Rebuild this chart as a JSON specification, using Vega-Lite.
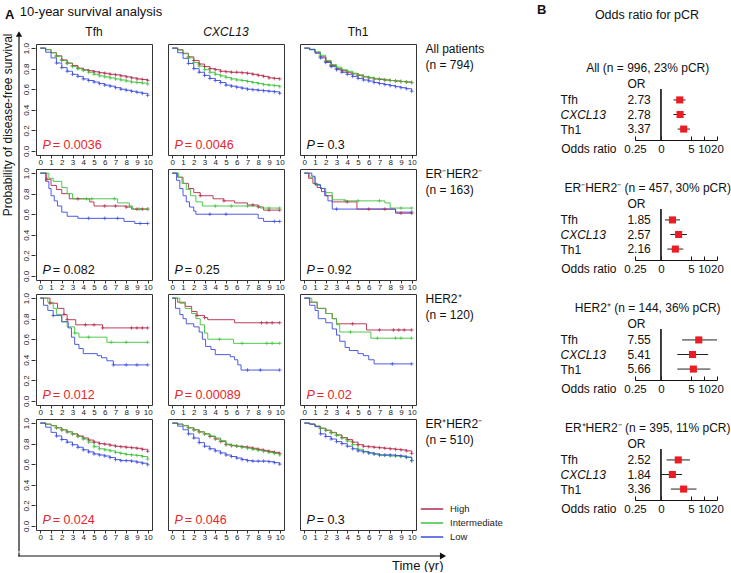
{
 "$schema": "https://vega.github.io/schema/vega-lite/v6.json",
 "background": "white",
 "padding": {"left": 1, "top": 4, "right": 0, "bottom": 0},
 "config": {
  "font": "Liberation Sans",
  "view": {"stroke": "#333", "strokeWidth": 1},
  "axis": {"grid": false, "labelOverlap": false},
  "title": {"fontWeight": "normal", "color": "#111"}
 },
 "datasets": {
  "km": [
   {"row": "All patients|(n = 794)", "sig": "Tfh", "grp": "High", "t": [0,0.5,1,1.5,2,2.5,3,3.5,4,4.5,5,5.5,6,6.5,7,7.5,8,8.5,9,9.5,10], "s": [1,0.985,0.955,0.925,0.885,0.855,0.83,0.805,0.79,0.78,0.77,0.76,0.755,0.745,0.74,0.73,0.72,0.71,0.7,0.695,0.685], "c": [0,0,0,1,1,1,1,1,1,1,1,1,1,1,1,1,1,1,1,1,1]},
   {"row": "All patients|(n = 794)", "sig": "Tfh", "grp": "Intermediate", "t": [0,0.5,1,1.5,2,2.5,3,3.5,4,4.5,5,5.5,6,6.5,7,7.5,8,8.5,9,9.5,10], "s": [1,0.985,0.955,0.92,0.88,0.85,0.82,0.8,0.785,0.765,0.745,0.73,0.72,0.71,0.7,0.69,0.68,0.67,0.665,0.66,0.65], "c": [0,0,0,1,1,1,1,1,1,1,1,1,1,1,1,1,1,1,1,1,1]},
   {"row": "All patients|(n = 794)", "sig": "Tfh", "grp": "Low", "t": [0,0.5,1,1.5,2,2.5,3,3.5,4,4.5,5,5.5,6,6.5,7,7.5,8,8.5,9,9.5,10], "s": [1,0.96,0.905,0.855,0.81,0.775,0.745,0.725,0.7,0.685,0.67,0.655,0.64,0.63,0.615,0.6,0.59,0.58,0.57,0.56,0.54], "c": [0,0,0,1,1,1,1,1,1,1,1,1,1,1,1,1,1,1,1,1,1]},
   {"row": "All patients|(n = 794)", "sig": "CXCL13", "grp": "High", "t": [0,0.5,1,1.5,2,2.5,3,3.5,4,4.5,5,5.5,6,6.5,7,7.5,8,8.5,9,9.5,10], "s": [1,0.985,0.95,0.915,0.88,0.845,0.82,0.8,0.79,0.775,0.77,0.765,0.765,0.76,0.755,0.745,0.735,0.725,0.71,0.705,0.7], "c": [0,0,0,1,1,1,1,1,1,1,1,1,1,1,1,1,1,1,1,1,1]},
   {"row": "All patients|(n = 794)", "sig": "CXCL13", "grp": "Intermediate", "t": [0,0.5,1,1.5,2,2.5,3,3.5,4,4.5,5,5.5,6,6.5,7,7.5,8,8.5,9,9.5,10], "s": [1,0.98,0.945,0.905,0.86,0.825,0.79,0.765,0.745,0.73,0.715,0.7,0.69,0.685,0.675,0.665,0.655,0.645,0.64,0.635,0.625], "c": [0,0,0,1,1,1,1,1,1,1,1,1,1,1,1,1,1,1,1,1,1]},
   {"row": "All patients|(n = 794)", "sig": "CXCL13", "grp": "Low", "t": [0,0.5,1,1.5,2,2.5,3,3.5,4,4.5,5,5.5,6,6.5,7,7.5,8,8.5,9,9.5,10], "s": [1,0.955,0.9,0.85,0.8,0.765,0.735,0.705,0.685,0.665,0.64,0.63,0.62,0.61,0.6,0.595,0.59,0.585,0.58,0.575,0.56], "c": [0,0,0,1,1,1,1,1,1,1,1,1,1,1,1,1,1,1,1,1,1]},
   {"row": "All patients|(n = 794)", "sig": "Th1", "grp": "High", "t": [0,0.5,1,1.5,2,2.5,3,3.5,4,4.5,5,5.5,6,6.5,7,7.5,8,8.5,9,9.5,10], "s": [1,0.985,0.955,0.915,0.87,0.83,0.8,0.78,0.765,0.75,0.735,0.72,0.71,0.7,0.695,0.69,0.685,0.68,0.675,0.67,0.665], "c": [0,0,0,1,1,1,1,1,1,1,1,1,1,1,1,1,1,1,1,1,1]},
   {"row": "All patients|(n = 794)", "sig": "Th1", "grp": "Intermediate", "t": [0,0.5,1,1.5,2,2.5,3,3.5,4,4.5,5,5.5,6,6.5,7,7.5,8,8.5,9,9.5,10], "s": [1,0.99,0.965,0.93,0.88,0.84,0.815,0.79,0.775,0.755,0.74,0.725,0.715,0.705,0.7,0.69,0.685,0.68,0.675,0.67,0.665], "c": [0,0,0,1,1,1,1,1,1,1,1,1,1,1,1,1,1,1,1,1,1]},
   {"row": "All patients|(n = 794)", "sig": "Th1", "grp": "Low", "t": [0,0.5,1,1.5,2,2.5,3,3.5,4,4.5,5,5.5,6,6.5,7,7.5,8,8.5,9,9.5,10], "s": [1,0.985,0.95,0.905,0.86,0.82,0.79,0.765,0.745,0.725,0.705,0.69,0.68,0.665,0.655,0.645,0.635,0.625,0.615,0.605,0.58], "c": [0,0,0,1,1,1,1,1,1,1,1,1,1,1,1,1,1,1,1,1,1]},

   {"row": "ER⁻HER2⁻|(n = 163)", "sig": "Tfh", "grp": "High", "t": [0,0.6,1.0,1.5,2.0,2.7,3.5,4.6,5.0,6.0,7.0,8.0,8.5,9.0,9.5,10], "s": [1,0.94,0.88,0.84,0.8,0.75,0.75,0.72,0.68,0.68,0.68,0.67,0.65,0.65,0.65,0.65], "c": [0,1,0,0,0,0,1,0,0,1,1,1,0,1,1,1]},
   {"row": "ER⁻HER2⁻|(n = 163)", "sig": "Tfh", "grp": "Intermediate", "t": [0,0.8,1.2,2.0,2.5,3.0,4.3,4.8,6.9,7.2,8.3,8.6,9.2,10], "s": [1,0.95,0.92,0.86,0.8,0.75,0.75,0.75,0.75,0.71,0.68,0.65,0.65,0.65], "c": [0,0,0,0,0,0,1,1,1,0,1,0,1,1]},
   {"row": "ER⁻HER2⁻|(n = 163)", "sig": "Tfh", "grp": "Low", "t": [0,0.5,0.8,1.0,1.3,1.6,2.0,2.5,3.5,4.5,6.0,7.2,7.8,8.8,9.3,10], "s": [1,0.92,0.85,0.78,0.73,0.68,0.62,0.58,0.56,0.56,0.56,0.56,0.53,0.51,0.51,0.51], "c": [0,0,0,0,0,0,0,0,0,1,1,1,0,0,1,1]},
   {"row": "ER⁻HER2⁻|(n = 163)", "sig": "CXCL13", "grp": "High", "t": [0,0.5,1.0,1.5,2.0,2.6,3.8,4.8,5.8,7.0,7.5,8.0,8.5,9.0,10], "s": [1,0.96,0.9,0.85,0.81,0.78,0.75,0.73,0.71,0.69,0.69,0.67,0.64,0.64,0.64], "c": [0,0,0,0,0,1,0,1,0,0,1,1,0,1,1]},
   {"row": "ER⁻HER2⁻|(n = 163)", "sig": "CXCL13", "grp": "Intermediate", "t": [0,0.6,0.9,1.3,1.7,2.2,2.8,4.0,5.5,7.0,8.2,9.0,10], "s": [1,0.96,0.9,0.84,0.78,0.72,0.68,0.68,0.68,0.68,0.66,0.66,0.66], "c": [0,0,0,0,0,0,0,1,1,1,0,1,1]},
   {"row": "ER⁻HER2⁻|(n = 163)", "sig": "CXCL13", "grp": "Low", "t": [0,0.4,0.7,1.0,1.3,1.6,2.0,2.2,3.5,5.0,7.3,8.0,8.5,9.5,10], "s": [1,0.93,0.85,0.78,0.72,0.67,0.63,0.6,0.6,0.6,0.6,0.56,0.53,0.53,0.53], "c": [0,0,0,0,0,0,0,0,1,1,0,0,0,1,1]},
   {"row": "ER⁻HER2⁻|(n = 163)", "sig": "Th1", "grp": "High", "t": [0,0.4,0.8,1.2,1.6,2.0,2.6,4.0,4.9,6.0,7.5,8.5,9.0,10], "s": [1,0.95,0.9,0.86,0.82,0.78,0.72,0.72,0.65,0.65,0.65,0.61,0.61,0.61], "c": [0,0,0,0,0,0,0,1,0,1,1,0,1,1]},
   {"row": "ER⁻HER2⁻|(n = 163)", "sig": "Th1", "grp": "Intermediate", "t": [0,0.5,1.0,1.5,2.0,2.6,3.8,5.0,7.0,7.5,8.0,9.0,10], "s": [1,0.96,0.88,0.85,0.81,0.74,0.73,0.73,0.73,0.71,0.66,0.66,0.66], "c": [0,0,0,0,0,0,1,1,1,0,0,1,1]},
   {"row": "ER⁻HER2⁻|(n = 163)", "sig": "Th1", "grp": "Low", "t": [0,0.7,1.0,1.5,1.9,2.2,2.6,3.0,7.0,8.5,10], "s": [1,0.97,0.89,0.85,0.78,0.73,0.65,0.65,0.65,0.62,0.62], "c": [0,0,0,0,0,0,0,1,0,0,1]},

   {"row": "HER2⁺|(n = 120)", "sig": "Tfh", "grp": "High", "t": [0,0.9,1.6,2.2,2.5,3.3,4.2,5.0,5.8,8.5,9.0,9.5,10], "s": [1,0.95,0.9,0.84,0.79,0.74,0.74,0.74,0.71,0.71,0.71,0.71,0.71], "c": [0,1,0,1,1,0,1,1,1,1,1,1,1]},
   {"row": "HER2⁺|(n = 120)", "sig": "Tfh", "grp": "Intermediate", "t": [0,0.7,1.2,1.5,2.0,2.5,3.2,3.6,4.5,6.2,6.6,8.0,10], "s": [1,0.96,0.9,0.84,0.77,0.72,0.66,0.62,0.62,0.57,0.57,0.57,0.57], "c": [0,0,0,0,0,0,1,0,1,0,1,1,1]},
   {"row": "HER2⁺|(n = 120)", "sig": "Tfh", "grp": "Low", "t": [0,0.3,0.7,1.2,2.0,2.6,2.9,3.2,3.6,4.0,5.3,5.7,6.2,6.8,8.0,9.0,10], "s": [1,0.93,0.88,0.83,0.77,0.71,0.62,0.55,0.51,0.46,0.44,0.42,0.39,0.35,0.35,0.35,0.35], "c": [0,0,0,1,0,0,0,0,0,0,0,0,0,1,1,1,1]},
   {"row": "HER2⁺|(n = 120)", "sig": "CXCL13", "grp": "High", "t": [0,0.5,1.2,1.8,2.3,3.0,3.3,5.8,8.3,8.8,9.3,10], "s": [1,0.96,0.92,0.87,0.83,0.81,0.79,0.76,0.76,0.76,0.76,0.76], "c": [0,0,0,0,1,1,0,0,1,1,1,1]},
   {"row": "HER2⁺|(n = 120)", "sig": "CXCL13", "grp": "Intermediate", "t": [0,0.7,1.2,1.8,2.2,2.6,3.0,3.3,4.4,5.7,6.5,8.8,9.3,10], "s": [1,0.95,0.9,0.85,0.8,0.74,0.66,0.6,0.6,0.56,0.56,0.56,0.56,0.56], "c": [0,0,0,0,0,0,0,0,1,0,1,1,1,1]},
   {"row": "HER2⁺|(n = 120)", "sig": "CXCL13", "grp": "Low", "t": [0,0.3,0.7,1.0,1.3,2.0,2.5,2.8,3.1,3.6,4.0,5.4,5.8,6.1,6.4,7.0,8.2,10], "s": [1,0.9,0.84,0.8,0.75,0.72,0.67,0.6,0.53,0.5,0.45,0.43,0.4,0.35,0.3,0.3,0.3,0.3], "c": [0,0,0,0,0,0,0,0,0,0,0,0,0,0,0,1,1,1]},
   {"row": "HER2⁺|(n = 120)", "sig": "Th1", "grp": "High", "t": [0,0.5,1.2,2.0,2.6,3.0,4.5,5.8,7.0,8.3,8.8,9.3,10], "s": [1,0.96,0.9,0.85,0.8,0.75,0.75,0.69,0.69,0.69,0.69,0.69,0.69], "c": [0,0,0,0,0,0,1,0,1,1,1,1,1]},
   {"row": "HER2⁺|(n = 120)", "sig": "Th1", "grp": "Intermediate", "t": [0,0.7,1.2,2.0,2.6,3.0,3.3,4.3,6.2,6.8,8.5,9.0,10], "s": [1,0.96,0.9,0.85,0.8,0.74,0.67,0.67,0.61,0.61,0.61,0.61,0.61], "c": [0,0,0,0,0,0,0,1,0,1,1,1,1]},
   {"row": "HER2⁺|(n = 120)", "sig": "Th1", "grp": "Low", "t": [0,0.5,1.0,1.3,2.0,2.6,3.0,3.3,3.8,4.2,5.0,5.5,6.0,6.5,8.2,10], "s": [1,0.93,0.88,0.8,0.76,0.7,0.64,0.58,0.52,0.49,0.46,0.44,0.4,0.36,0.36,0.36], "c": [0,0,0,0,0,0,0,0,0,0,0,0,0,0,1,1]},

   {"row": "ER⁺HER2⁻|(n = 510)", "sig": "Tfh", "grp": "High", "t": [0,0.5,1,1.5,2,2.5,3,3.5,4,4.5,5,5.5,6,6.5,7,7.5,8,8.5,9,9.5,10], "s": [1,0.99,0.975,0.955,0.935,0.915,0.895,0.875,0.855,0.835,0.815,0.8,0.795,0.785,0.775,0.77,0.765,0.76,0.755,0.745,0.725], "c": [0,0,0,1,1,1,1,1,1,1,1,1,1,1,1,1,1,1,1,1,1]},
   {"row": "ER⁺HER2⁻|(n = 510)", "sig": "Tfh", "grp": "Intermediate", "t": [0,0.5,1,1.5,2,2.5,3,3.5,4,4.5,5,5.5,6,6.5,7,7.5,8,8.5,9,9.5,10], "s": [1,0.99,0.975,0.955,0.935,0.915,0.895,0.87,0.845,0.815,0.77,0.75,0.74,0.73,0.715,0.705,0.695,0.69,0.685,0.675,0.65], "c": [0,0,0,1,1,1,1,1,1,1,1,1,1,1,1,1,1,1,1,1,1]},
   {"row": "ER⁺HER2⁻|(n = 510)", "sig": "Tfh", "grp": "Low", "t": [0,0.5,1,1.5,2,2.5,3,3.5,4,4.5,5,5.5,6,6.5,7,7.5,8,8.5,9,9.5,10], "s": [1,0.96,0.91,0.875,0.84,0.815,0.79,0.765,0.74,0.72,0.7,0.69,0.68,0.665,0.645,0.635,0.635,0.63,0.62,0.61,0.595], "c": [0,0,0,1,1,1,1,1,1,1,1,1,1,1,1,1,1,1,1,1,1]},
   {"row": "ER⁺HER2⁻|(n = 510)", "sig": "CXCL13", "grp": "High", "t": [0,0.5,1,1.5,2,2.5,3,3.5,4,4.5,5,5.5,6,6.5,7,7.5,8,8.5,9,9.5,10], "s": [1,0.99,0.975,0.955,0.935,0.915,0.895,0.87,0.845,0.82,0.79,0.78,0.775,0.77,0.765,0.755,0.745,0.735,0.725,0.715,0.705], "c": [0,0,0,1,1,1,1,1,1,1,1,1,1,1,1,1,1,1,1,1,1]},
   {"row": "ER⁺HER2⁻|(n = 510)", "sig": "CXCL13", "grp": "Intermediate", "t": [0,0.5,1,1.5,2,2.5,3,3.5,4,4.5,5,5.5,6,6.5,7,7.5,8,8.5,9,9.5,10], "s": [1,0.99,0.975,0.955,0.935,0.915,0.895,0.875,0.855,0.83,0.795,0.785,0.775,0.765,0.755,0.745,0.735,0.725,0.715,0.705,0.69], "c": [0,0,0,1,1,1,1,1,1,1,1,1,1,1,1,1,1,1,1,1,1]},
   {"row": "ER⁺HER2⁻|(n = 510)", "sig": "CXCL13", "grp": "Low", "t": [0,0.5,1,1.5,2,2.5,3,3.5,4,4.5,5,5.5,6,6.5,7,7.5,8,8.5,9,9.5,10], "s": [1,0.97,0.935,0.895,0.855,0.81,0.775,0.75,0.73,0.71,0.69,0.675,0.66,0.645,0.635,0.63,0.63,0.63,0.625,0.615,0.6], "c": [0,0,0,1,1,1,1,1,1,1,1,1,1,1,1,1,1,1,1,1,1]},
   {"row": "ER⁺HER2⁻|(n = 510)", "sig": "Th1", "grp": "High", "t": [0,0.5,1,1.5,2,2.5,3,3.5,4,4.5,5,5.5,6,6.5,7,7.5,8,8.5,9,9.5,10], "s": [1,0.99,0.97,0.95,0.93,0.91,0.885,0.86,0.84,0.815,0.79,0.775,0.77,0.765,0.76,0.755,0.75,0.745,0.74,0.73,0.705], "c": [0,0,0,1,1,1,1,1,1,1,1,1,1,1,1,1,1,1,1,1,1]},
   {"row": "ER⁺HER2⁻|(n = 510)", "sig": "Th1", "grp": "Intermediate", "t": [0,0.5,1,1.5,2,2.5,3,3.5,4,4.5,5,5.5,6,6.5,7,7.5,8,8.5,9,9.5,10], "s": [1,0.99,0.97,0.95,0.93,0.905,0.88,0.855,0.825,0.79,0.745,0.725,0.71,0.7,0.69,0.685,0.68,0.68,0.675,0.665,0.635], "c": [0,0,0,1,1,1,1,1,1,1,1,1,1,1,1,1,1,1,1,1,1]},
   {"row": "ER⁺HER2⁻|(n = 510)", "sig": "Th1", "grp": "Low", "t": [0,0.5,1,1.5,2,2.5,3,3.5,4,4.5,5,5.5,6,6.5,7,7.5,8,8.5,9,9.5,10], "s": [1,0.99,0.965,0.895,0.87,0.845,0.82,0.8,0.775,0.75,0.73,0.72,0.71,0.7,0.69,0.69,0.69,0.685,0.68,0.67,0.635], "c": [0,0,0,1,1,1,1,1,1,1,1,1,1,1,1,1,1,1,1,1,1]},

   {"row": "All patients|(n = 794)", "sig": "Tfh", "p": 0.0036, "signif": true},
   {"row": "All patients|(n = 794)", "sig": "CXCL13", "p": 0.0046, "signif": true},
   {"row": "All patients|(n = 794)", "sig": "Th1", "p": 0.3, "signif": false},
   {"row": "ER⁻HER2⁻|(n = 163)", "sig": "Tfh", "p": 0.082, "signif": false},
   {"row": "ER⁻HER2⁻|(n = 163)", "sig": "CXCL13", "p": 0.25, "signif": false},
   {"row": "ER⁻HER2⁻|(n = 163)", "sig": "Th1", "p": 0.92, "signif": false},
   {"row": "HER2⁺|(n = 120)", "sig": "Tfh", "p": 0.012, "signif": true},
   {"row": "HER2⁺|(n = 120)", "sig": "CXCL13", "p": 0.00089, "signif": true},
   {"row": "HER2⁺|(n = 120)", "sig": "Th1", "p": 0.02, "signif": true},
   {"row": "ER⁺HER2⁻|(n = 510)", "sig": "Tfh", "p": 0.024, "signif": true},
   {"row": "ER⁺HER2⁻|(n = 510)", "sig": "CXCL13", "p": 0.046, "signif": true},
   {"row": "ER⁺HER2⁻|(n = 510)", "sig": "Th1", "p": 0.3, "signif": false}
  ],
  "subgroups": [
   {"row": "All patients|(n = 794)"},
   {"row": "ER⁻HER2⁻|(n = 163)"},
   {"row": "HER2⁺|(n = 120)"},
   {"row": "ER⁺HER2⁻|(n = 510)"}
  ],
  "forest": [
   {"sub": "All", "sig": "Tfh", "or": 2.73, "lo": 1.95, "hi": 3.7},
   {"sub": "All", "sig": "CXCL13", "or": 2.78, "lo": 1.95, "hi": 3.75},
   {"sub": "All", "sig": "Th1", "or": 3.37, "lo": 2.45, "hi": 4.7},
   {"sub": "ERneg", "sig": "Tfh", "or": 1.85, "lo": 1.24, "hi": 2.77},
   {"sub": "ERneg", "sig": "CXCL13", "or": 2.57, "lo": 1.65, "hi": 4.0},
   {"sub": "ERneg", "sig": "Th1", "or": 2.16, "lo": 1.4, "hi": 3.3},
   {"sub": "HER2", "sig": "Tfh", "or": 7.55, "lo": 3.1, "hi": 20},
   {"sub": "HER2", "sig": "CXCL13", "or": 5.41, "lo": 2.4, "hi": 12.5},
   {"sub": "HER2", "sig": "Th1", "or": 5.66, "lo": 2.4, "hi": 14},
   {"sub": "ERpos", "sig": "Tfh", "or": 2.52, "lo": 1.35, "hi": 4.7},
   {"sub": "ERpos", "sig": "CXCL13", "or": 1.84, "lo": 1.0, "hi": 3.1},
   {"sub": "ERpos", "sig": "Th1", "or": 3.36, "lo": 1.7, "hi": 6.7}
  ]
 },
 "spacing": 52,
 "hconcat": [
  {
   "spacing": 0,
   "hconcat": [
    {
     "width": 1, "height": 1, "view": {"stroke": null},
     "title": {"text": "A", "anchor": "start", "frame": "group", "fontSize": 13, "fontWeight": "bold", "offset": 12, "dx": -2},
     "data": {"values": [{}]},
     "mark": {"type": "text", "text": "Probability of disease-free survival", "angle": 270, "align": "right", "baseline": "middle", "dx": 11, "fontSize": 12, "color": "#111"},
     "encoding": {}
    },
    {
     "spacing": 0,
     "vconcat": [
      {
       "title": {"text": "10-year survival analysis", "anchor": "start", "frame": "bounds", "fontSize": 13, "offset": 7, "dx": 4},
       "spacing": -1,
       "hconcat": [
        {
         "width": 1, "height": 507, "view": {"stroke": null},
         "data": {"values": [{}]},
         "layer": [
          {"mark": {"type": "rule", "color": "#111", "strokeWidth": 1.2, "strokeCap": "square"},
           "encoding": {
            "x": {"datum": 0, "type": "quantitative", "scale": {"domain": [0, 1]}, "axis": null},
            "y": {"datum": 0, "type": "quantitative", "scale": {"domain": [0, 1]}, "axis": null},
            "y2": {"datum": 1.0197}
           }},
          {"mark": {"type": "point", "shape": "triangle-up", "filled": true, "color": "#111", "size": 40, "opacity": 1},
           "encoding": {"x": {"datum": 0, "type": "quantitative"}, "y": {"datum": 1.0197, "type": "quantitative"}}}
         ]
        },
        {
         "spacing": 8,
         "hconcat": [
          {
           "data": {"name": "km"},
           "facet": {
            "row": {"field": "row", "type": "nominal", "title": null,
                    "sort": ["All patients|(n = 794)", "ER⁻HER2⁻|(n = 163)", "HER2⁺|(n = 120)", "ER⁺HER2⁻|(n = 510)"],
                    "header": {"labels": false}},
            "column": {"field": "sig", "type": "nominal", "title": null, "sort": ["Tfh", "CXCL13", "Th1"],
                       "header": {"labelFontSize": 12, "labelPadding": 4, "labelColor": "#111", "labelFontStyle": {"expr": "parent.sig === 'CXCL13' ? 'italic' : 'normal'"}}}
           },
           "spacing": {"row": 1, "column": 14},
           "resolve": {"axis": {"x": "independent"}},
           "spec": {
            "width": 116, "height": 111,
            "layer": [
             {
              "transform": [{"filter": "isValid(datum.t)"}, {"flatten": ["t", "s", "c"]}],
              "mark": {"type": "line", "interpolate": "step-after", "strokeWidth": 0.9},
              "encoding": {
               "x": {"field": "t", "type": "quantitative", "scale": {"domain": [-0.4, 10.4], "nice": false, "zero": false},
                     "axis": {"values": [0,1,2,3,4,5,6,7,8,9,10], "tickCount": 11, "title": null, "domain": false, "tickSize": 3, "tickColor": "#333", "labelFontSize": 8, "labelPadding": 0, "labelColor": "#222", "labelFlush": false, "labelOverlap": false, "offset": 0}},
               "y": {"field": "s", "type": "quantitative", "scale": {"domain": [-0.04, 1.04], "nice": false, "zero": false},
                     "axis": {"values": [0, 0.2, 0.4, 0.6, 0.8, 1], "tickCount": 6, "format": ".1f", "title": null, "domain": false, "tickSize": 4, "tickColor": "#333", "labelAngle": 270, "labelAlign": "center", "labelBaseline": "bottom", "labelFontSize": 8, "labelPadding": 1, "labelColor": "#222", "labelFlush": false, "labelOverlap": false}},
               "color": {"field": "grp", "type": "nominal", "scale": {"domain": ["High", "Intermediate", "Low"], "range": ["#b5284a", "#3cc43c", "#3a4be0"]},
                         "legend": {"orient": "none", "legendX": 413, "legendY": 459, "padding": 0, "title": null, "symbolType": "stroke", "symbolSize": 500, "symbolStrokeWidth": 1.5, "labelFontSize": 9.5, "labelColor": "#222", "clipHeight": 12, "rowPadding": 2, "labelOffset": 6}}
              }
             },
             {
              "transform": [{"filter": "isValid(datum.t)"}, {"flatten": ["t", "s", "c"]}, {"filter": "datum.c === 1"}],
              "mark": {"type": "point", "shape": "M0,-1V1M-1,0H1", "filled": false, "size": 14, "strokeWidth": 0.7, "opacity": 1},
              "encoding": {
               "x": {"field": "t", "type": "quantitative",
                     "axis": {"values": [0,1,2,3,4,5,6,7,8,9,10], "tickCount": 11, "title": null, "domain": false, "tickSize": 3, "tickColor": "#333", "labelFontSize": 8, "labelPadding": 0, "labelColor": "#222", "labelFlush": false, "labelOverlap": false, "offset": 0}},
               "y": {"field": "s", "type": "quantitative",
                     "axis": {"values": [0, 0.2, 0.4, 0.6, 0.8, 1], "tickCount": 6, "format": ".1f", "title": null, "domain": false, "tickSize": 4, "tickColor": "#333", "labelAngle": 270, "labelAlign": "center", "labelBaseline": "bottom", "labelFontSize": 8, "labelPadding": 1, "labelColor": "#222", "labelFlush": false, "labelOverlap": false}},
               "color": {"field": "grp", "type": "nominal"}
              }
             },
             {
              "transform": [{"filter": "isValid(datum.p)"}],
              "mark": {"type": "text", "text": "P", "fontStyle": "italic", "fontSize": 12.5, "align": "left", "baseline": "middle"},
              "encoding": {
               "x": {"datum": 0.2},
               "y": {"datum": 0.06},
               "color": {"condition": {"test": "datum.signif", "value": "#e8252a"}, "value": "#111"}
              }
             },
             {
              "transform": [{"filter": "isValid(datum.p)"}],
              "mark": {"type": "text", "text": {"expr": "'= ' + datum.p"}, "fontSize": 12.5, "align": "left", "baseline": "middle"},
              "encoding": {
               "x": {"datum": 1.15},
               "y": {"datum": 0.06},
               "color": {"condition": {"test": "datum.signif", "value": "#e8252a"}, "value": "#111"}
              }
             }
            ]
           }
          },
          {
           "width": 1, "height": 500, "view": {"stroke": null},
           "data": {"name": "subgroups"},
           "mark": {"type": "text", "align": "left", "baseline": "top", "fontSize": 12, "lineBreak": "|", "lineHeight": 16, "color": "#111"},
           "encoding": {
            "y": {"field": "row", "type": "nominal", "bandPosition": 0, "sort": ["All patients|(n = 794)", "ER⁻HER2⁻|(n = 163)", "HER2⁺|(n = 120)", "ER⁺HER2⁻|(n = 510)"], "scale": {"type": "band", "paddingInner": 0, "paddingOuter": 0}, "axis": null},
            "text": {"field": "row"}
           }
          }
         ]
        }
       ]
      },
      {
       "width": 424, "height": 1, "view": {"stroke": null},
       "data": {"values": [{}]},
       "layer": [
        {"mark": {"type": "rule", "color": "#111", "strokeWidth": 1.2, "strokeCap": "square"},
         "encoding": {
          "x": {"datum": 0, "type": "quantitative", "scale": {"domain": [0, 1]},
                "axis": {"title": "Time (yr)", "titleAnchor": "end", "titleFontSize": 13, "titleFontWeight": "normal", "titleColor": "#111", "titlePadding": 2, "domain": false, "ticks": false, "labels": false, "grid": false}},
          "x2": {"datum": 1},
          "y": {"datum": 1, "type": "quantitative", "scale": {"domain": [0, 1]}, "axis": null}
         }},
        {"mark": {"type": "rule", "color": "#111", "strokeWidth": 1.2, "strokeCap": "square"},
         "encoding": {
          "x": {"datum": 0, "type": "quantitative"},
          "y": {"datum": 1, "type": "quantitative"},
          "y2": {"datum": 4}
         }},
        {"mark": {"type": "point", "shape": "triangle-right", "filled": true, "color": "#111", "size": 50, "opacity": 1},
         "encoding": {"x": {"datum": 1, "type": "quantitative"}, "y": {"datum": 1, "type": "quantitative"}}}
       ]
      }
     ]
    }
   ]
  },
  {
   "spacing": 13,
   "hconcat": [
    {
     "width": 1, "height": 1, "view": {"stroke": null},
     "title": {"text": "B", "anchor": "start", "frame": "group", "fontSize": 13, "fontWeight": "bold", "offset": 27},
     "data": {"values": []},
     "mark": {"type": "point"},
     "encoding": {}
    },
    {
     "spacing": 17,
     "vconcat": [
      {
       "width": 82, "height": 1, "view": {"stroke": null},
       "title": {"text": "Odds ratio for pCR", "anchor": "middle", "frame": "group", "fontSize": 12.5, "offset": 23, "dx": -29},
       "data": {"values": []},
       "mark": {"type": "point"},
       "encoding": {}
      },
      {
       "spacing": 27,
       "vconcat": [
        {
         "width": 82, "height": 51, "view": {"stroke": null},
         "title": {"text": "All (n = 996, 23% pCR)", "anchor": "middle", "frame": "bounds", "fontSize": 12, "offset": 2, "dx": 6},
         "data": {"name": "forest"},
         "transform": [{"filter": "datum.sub === 'All'"}],
         "layer": [
          {"mark": {"type": "rule", "color": "#222", "strokeWidth": 1}, "encoding": {"x": {"datum": 1, "type": "quantitative"}}},
          {"mark": {"type": "rule", "color": "#222", "strokeWidth": 1},
           "encoding": {
            "x": {"field": "lo", "type": "quantitative", "scale": {"type": "log", "domain": [0.25, 20], "nice": false},
                  "axis": {"values": [0.25, 1, 5, 10, 20], "labelExpr": "datum.value === 1 ? '0' : datum.value === 0.25 ? '0.25' : format(datum.value, 'd')", "title": "Odds ratio", "titleX": -19, "titleY": 3, "titleAlign": "right", "titleBaseline": "top", "titleAngle": 0, "titleFontSize": 12, "titleFontWeight": "normal", "titleColor": "#111", "domainColor": "#111", "tickColor": "#111", "tickSize": -4, "labelPadding": 7, "labelFontSize": 11.5, "labelColor": "#111", "labelFlush": false, "labelOverlap": false, "labelBound": false}},
            "x2": {"field": "hi"},
            "y": {"field": "sig", "type": "nominal", "sort": ["Tfh", "CXCL13", "Th1"], "scale": {"type": "point", "padding": 0.75},
                  "axis": {"title": "OR", "titleAngle": 0, "titleX": -8, "titleY": -6, "titleAlign": "left", "titleBaseline": "middle", "titleFontSize": 12, "titleFontWeight": "normal", "titleColor": "#111", "domain": false, "ticks": false, "tickSize": 0, "labelPadding": 75, "labelAlign": "left", "labelFontSize": 12, "labelColor": "#111", "labelFontStyle": {"condition": {"test": "datum.value === 'CXCL13'", "value": "italic"}, "value": "normal"}}}
           }},
          {"mark": {"type": "point", "shape": "square", "filled": true, "color": "#ec1c24", "size": 50, "opacity": 1},
           "encoding": {"x": {"field": "or", "type": "quantitative"}, "y": {"field": "sig", "type": "nominal", "sort": ["Tfh", "CXCL13", "Th1"]}}},
          {"mark": {"type": "text", "align": "right", "baseline": "middle", "fontSize": 12, "color": "#111"},
           "encoding": {"x": {"datum": 0.58, "type": "quantitative"}, "y": {"field": "sig", "type": "nominal", "sort": ["Tfh", "CXCL13", "Th1"]}, "text": {"field": "or", "format": ".2f"}}}
         ]
        },
        {
         "width": 82, "height": 51, "view": {"stroke": null},
         "title": {"text": "ER⁻HER2⁻ (n = 457, 30% pCR)", "anchor": "middle", "frame": "bounds", "fontSize": 12, "offset": 2, "dx": 6},
         "data": {"name": "forest"},
         "transform": [{"filter": "datum.sub === 'ERneg'"}],
         "layer": [
          {"mark": {"type": "rule", "color": "#222", "strokeWidth": 1}, "encoding": {"x": {"datum": 1, "type": "quantitative"}}},
          {"mark": {"type": "rule", "color": "#222", "strokeWidth": 1},
           "encoding": {
            "x": {"field": "lo", "type": "quantitative", "scale": {"type": "log", "domain": [0.25, 20], "nice": false},
                  "axis": {"values": [0.25, 1, 5, 10, 20], "labelExpr": "datum.value === 1 ? '0' : datum.value === 0.25 ? '0.25' : format(datum.value, 'd')", "title": "Odds ratio", "titleX": -19, "titleY": 3, "titleAlign": "right", "titleBaseline": "top", "titleAngle": 0, "titleFontSize": 12, "titleFontWeight": "normal", "titleColor": "#111", "domainColor": "#111", "tickColor": "#111", "tickSize": -4, "labelPadding": 7, "labelFontSize": 11.5, "labelColor": "#111", "labelFlush": false, "labelOverlap": false, "labelBound": false}},
            "x2": {"field": "hi"},
            "y": {"field": "sig", "type": "nominal", "sort": ["Tfh", "CXCL13", "Th1"], "scale": {"type": "point", "padding": 0.75},
                  "axis": {"title": "OR", "titleAngle": 0, "titleX": -8, "titleY": -6, "titleAlign": "left", "titleBaseline": "middle", "titleFontSize": 12, "titleFontWeight": "normal", "titleColor": "#111", "domain": false, "ticks": false, "tickSize": 0, "labelPadding": 75, "labelAlign": "left", "labelFontSize": 12, "labelColor": "#111", "labelFontStyle": {"condition": {"test": "datum.value === 'CXCL13'", "value": "italic"}, "value": "normal"}}}
           }},
          {"mark": {"type": "point", "shape": "square", "filled": true, "color": "#ec1c24", "size": 50, "opacity": 1},
           "encoding": {"x": {"field": "or", "type": "quantitative"}, "y": {"field": "sig", "type": "nominal", "sort": ["Tfh", "CXCL13", "Th1"]}}},
          {"mark": {"type": "text", "align": "right", "baseline": "middle", "fontSize": 12, "color": "#111"},
           "encoding": {"x": {"datum": 0.58, "type": "quantitative"}, "y": {"field": "sig", "type": "nominal", "sort": ["Tfh", "CXCL13", "Th1"]}, "text": {"field": "or", "format": ".2f"}}}
         ]
        },
        {
         "width": 82, "height": 51, "view": {"stroke": null},
         "title": {"text": "HER2⁺ (n = 144, 36% pCR)", "anchor": "middle", "frame": "bounds", "fontSize": 12, "offset": 2, "dx": 6},
         "data": {"name": "forest"},
         "transform": [{"filter": "datum.sub === 'HER2'"}],
         "layer": [
          {"mark": {"type": "rule", "color": "#222", "strokeWidth": 1}, "encoding": {"x": {"datum": 1, "type": "quantitative"}}},
          {"mark": {"type": "rule", "color": "#222", "strokeWidth": 1},
           "encoding": {
            "x": {"field": "lo", "type": "quantitative", "scale": {"type": "log", "domain": [0.25, 20], "nice": false},
                  "axis": {"values": [0.25, 1, 5, 10, 20], "labelExpr": "datum.value === 1 ? '0' : datum.value === 0.25 ? '0.25' : format(datum.value, 'd')", "title": "Odds ratio", "titleX": -19, "titleY": 3, "titleAlign": "right", "titleBaseline": "top", "titleAngle": 0, "titleFontSize": 12, "titleFontWeight": "normal", "titleColor": "#111", "domainColor": "#111", "tickColor": "#111", "tickSize": -4, "labelPadding": 7, "labelFontSize": 11.5, "labelColor": "#111", "labelFlush": false, "labelOverlap": false, "labelBound": false}},
            "x2": {"field": "hi"},
            "y": {"field": "sig", "type": "nominal", "sort": ["Tfh", "CXCL13", "Th1"], "scale": {"type": "point", "padding": 0.75},
                  "axis": {"title": "OR", "titleAngle": 0, "titleX": -8, "titleY": -6, "titleAlign": "left", "titleBaseline": "middle", "titleFontSize": 12, "titleFontWeight": "normal", "titleColor": "#111", "domain": false, "ticks": false, "tickSize": 0, "labelPadding": 75, "labelAlign": "left", "labelFontSize": 12, "labelColor": "#111", "labelFontStyle": {"condition": {"test": "datum.value === 'CXCL13'", "value": "italic"}, "value": "normal"}}}
           }},
          {"mark": {"type": "point", "shape": "square", "filled": true, "color": "#ec1c24", "size": 50, "opacity": 1},
           "encoding": {"x": {"field": "or", "type": "quantitative"}, "y": {"field": "sig", "type": "nominal", "sort": ["Tfh", "CXCL13", "Th1"]}}},
          {"mark": {"type": "text", "align": "right", "baseline": "middle", "fontSize": 12, "color": "#111"},
           "encoding": {"x": {"datum": 0.58, "type": "quantitative"}, "y": {"field": "sig", "type": "nominal", "sort": ["Tfh", "CXCL13", "Th1"]}, "text": {"field": "or", "format": ".2f"}}}
         ]
        },
        {
         "width": 82, "height": 51, "view": {"stroke": null},
         "title": {"text": "ER⁺HER2⁻ (n = 395, 11% pCR)", "anchor": "middle", "frame": "bounds", "fontSize": 12, "offset": 2, "dx": 6},
         "data": {"name": "forest"},
         "transform": [{"filter": "datum.sub === 'ERpos'"}],
         "layer": [
          {"mark": {"type": "rule", "color": "#222", "strokeWidth": 1}, "encoding": {"x": {"datum": 1, "type": "quantitative"}}},
          {"mark": {"type": "rule", "color": "#222", "strokeWidth": 1},
           "encoding": {
            "x": {"field": "lo", "type": "quantitative", "scale": {"type": "log", "domain": [0.25, 20], "nice": false},
                  "axis": {"values": [0.25, 1, 5, 10, 20], "labelExpr": "datum.value === 1 ? '0' : datum.value === 0.25 ? '0.25' : format(datum.value, 'd')", "title": "Odds ratio", "titleX": -19, "titleY": 3, "titleAlign": "right", "titleBaseline": "top", "titleAngle": 0, "titleFontSize": 12, "titleFontWeight": "normal", "titleColor": "#111", "domainColor": "#111", "tickColor": "#111", "tickSize": -4, "labelPadding": 7, "labelFontSize": 11.5, "labelColor": "#111", "labelFlush": false, "labelOverlap": false, "labelBound": false}},
            "x2": {"field": "hi"},
            "y": {"field": "sig", "type": "nominal", "sort": ["Tfh", "CXCL13", "Th1"], "scale": {"type": "point", "padding": 0.75},
                  "axis": {"title": "OR", "titleAngle": 0, "titleX": -8, "titleY": -6, "titleAlign": "left", "titleBaseline": "middle", "titleFontSize": 12, "titleFontWeight": "normal", "titleColor": "#111", "domain": false, "ticks": false, "tickSize": 0, "labelPadding": 75, "labelAlign": "left", "labelFontSize": 12, "labelColor": "#111", "labelFontStyle": {"condition": {"test": "datum.value === 'CXCL13'", "value": "italic"}, "value": "normal"}}}
           }},
          {"mark": {"type": "point", "shape": "square", "filled": true, "color": "#ec1c24", "size": 50, "opacity": 1},
           "encoding": {"x": {"field": "or", "type": "quantitative"}, "y": {"field": "sig", "type": "nominal", "sort": ["Tfh", "CXCL13", "Th1"]}}},
          {"mark": {"type": "text", "align": "right", "baseline": "middle", "fontSize": 12, "color": "#111"},
           "encoding": {"x": {"datum": 0.58, "type": "quantitative"}, "y": {"field": "sig", "type": "nominal", "sort": ["Tfh", "CXCL13", "Th1"]}, "text": {"field": "or", "format": ".2f"}}}
         ]
        }
       ]
      }
     ]
    }
   ]
  }
 ]
}
